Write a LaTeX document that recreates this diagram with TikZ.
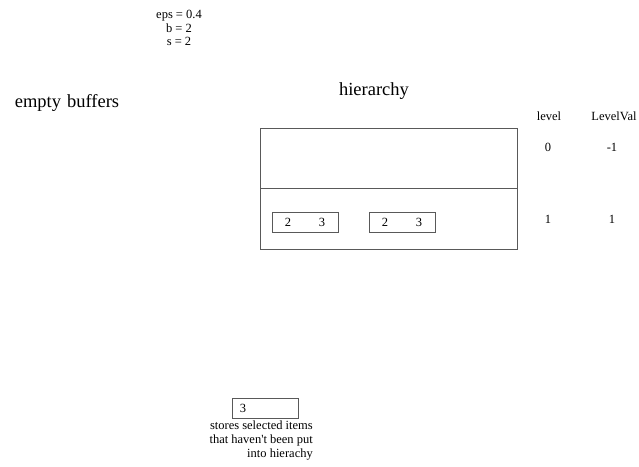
\documentclass[tikz,border=0pt]{standalone}
\usepackage{fontspec}
\setmainfont{Liberation Serif}

\begin{document}
\begin{tikzpicture}[
    x=1pt, y=-1pt,
    small/.style={font=\fontsize{12.5}{13.8}\selectfont, inner sep=0pt},
    big/.style={font=\fontsize{18.5}{22}\selectfont, inner sep=0pt},
    frame/.style={draw=black!65, line width=0.8pt},
    cell/.style={frame, minimum width=66pt, minimum height=20pt, inner sep=0pt}
]
    \useasboundingbox (0,0) rectangle (639,466);
    \node[small, align=center] (params) at (179,28) {eps = 0.4\\b = 2\\s = 2};
    \node[big] (empty) at (67,103) {empty\hspace{6pt}buffers};
    \node[big] (hiertitle) at (374,91) {hierarchy};
    \node[frame, minimum width=257pt, minimum height=121pt] (hier) at (388.5,188.5) {};
    \coordinate (divl) at (260,188);
    \coordinate (divr) at (517.5,188);
    \draw[frame] (divl) -- (divr);
    \node[small] (level) at (549,116) {level};
    \node[small] (levelval) at (614,116) {LevelVal};
    \node[small] (lvA) at (548,147) {0};
    \node[small] (valA) at (612,147) {-1};
    \node[small] (lvB) at (548,219) {1};
    \node[small] (valB) at (612,219) {1};
    \node[cell] (bufA) at (305,222) {};
    \node[cell] (bufB) at (402,222) {};
    \node[small] (bufAa) at (288,222) {2};
    \node[small] (bufAb) at (322,222) {3};
    \node[small] (bufBa) at (385,222) {2};
    \node[small] (bufBb) at (419,222) {3};
    \node[cell] (sel) at (265,408) {};
    \node[small] (selA) at (243,408) {3};
    \node[small, align=right, anchor=north east] (note) at (313,421) {stores selected items\\that haven\textquotesingle t been put\\into hierachy};
\end{tikzpicture}
\end{document}
